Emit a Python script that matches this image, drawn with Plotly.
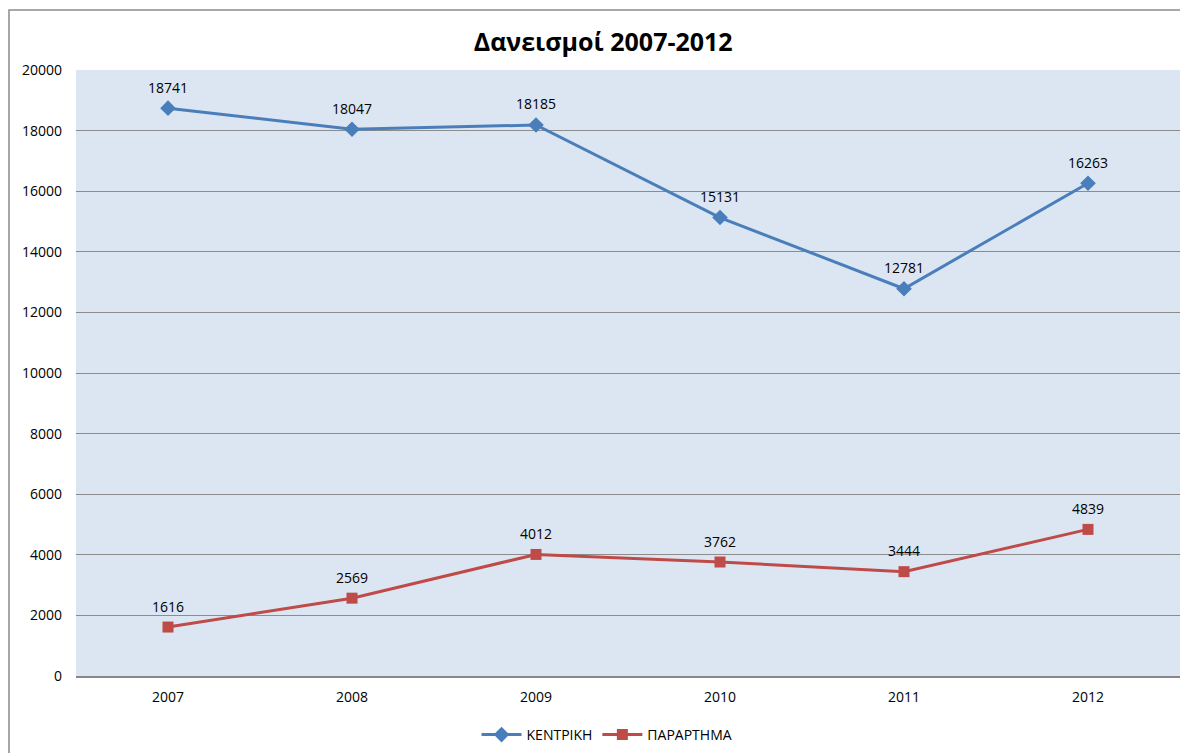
import plotly.graph_objects as go

years = ["2007", "2008", "2009", "2010", "2011", "2012"]
kentriki = [18741, 18047, 18185, 15131, 12781, 16263]
parartima = [1616, 2569, 4012, 3762, 3444, 4839]
y_ticks = list(range(0, 20001, 2000))

FONT = "Open Sans"
fig = go.Figure()
fig.add_trace(go.Scatter(
    x=years, y=kentriki, name="ΚΕΝΤΡΙΚΗ", mode="lines+markers",
    line=dict(color="#4a7ebb", width=3),
    marker=dict(symbol="diamond", size=12, color="#4a7ebb"),
))
fig.add_trace(go.Scatter(
    x=years, y=parartima, name="ΠΑΡΑΡΤΗΜΑ", mode="lines+markers",
    line=dict(color="#be4b48", width=3),
    marker=dict(symbol="square", size=11, color="#be4b48"),
))
for series in (kentriki, parartima):
    for i, v in enumerate(series):
        fig.add_annotation(x=i, y=v, xref="x", yref="y", text=str(v), showarrow=False,
                           yshift=21, font=dict(size=14, family=FONT, color="#000000"))

fig.update_layout(
    width=1188, height=753,
    margin=dict(l=68, r=16, t=62, b=85),
    paper_bgcolor="white", plot_bgcolor="#dce6f2",
    font=dict(family=FONT, size=14, color="#000000"),
    title=dict(text="<b>Δανεισμοί 2007-2012</b>", x=0.501, xanchor="center",
               y=0.955, yanchor="middle", font=dict(size=25, family=FONT)),
    showlegend=True,
    legend=dict(orientation="h", x=0.481, xanchor="center", yref="container",
                y=0.0345, yanchor="middle",
                font=dict(size=14, family=FONT), itemwidth=40),
    xaxis=dict(type="category", range=[-0.5, 5.5], showgrid=False, automargin=False,
               showline=True, linecolor="#888888", linewidth=1.5,
               ticks="", ticklabelstandoff=7, tickfont=dict(size=14)),
    yaxis=dict(range=[0, 20000], tickvals=y_ticks, ticktext=[str(t) for t in y_ticks],
               showgrid=True, automargin=False,
               gridcolor="#8c8c8c", gridwidth=1, zeroline=False,
               showline=False, ticks="", ticklabelstandoff=13,
               tickfont=dict(size=14)),
)
fig.add_shape(type="rect", xref="paper", yref="paper",
              x0=-0.0607, x1=1.03, y0=-0.25, y1=1.099,
              line=dict(color="#8c8c8c", width=1.5), fillcolor="rgba(0,0,0,0)", layer="below")
fig.write_html("out.html")
